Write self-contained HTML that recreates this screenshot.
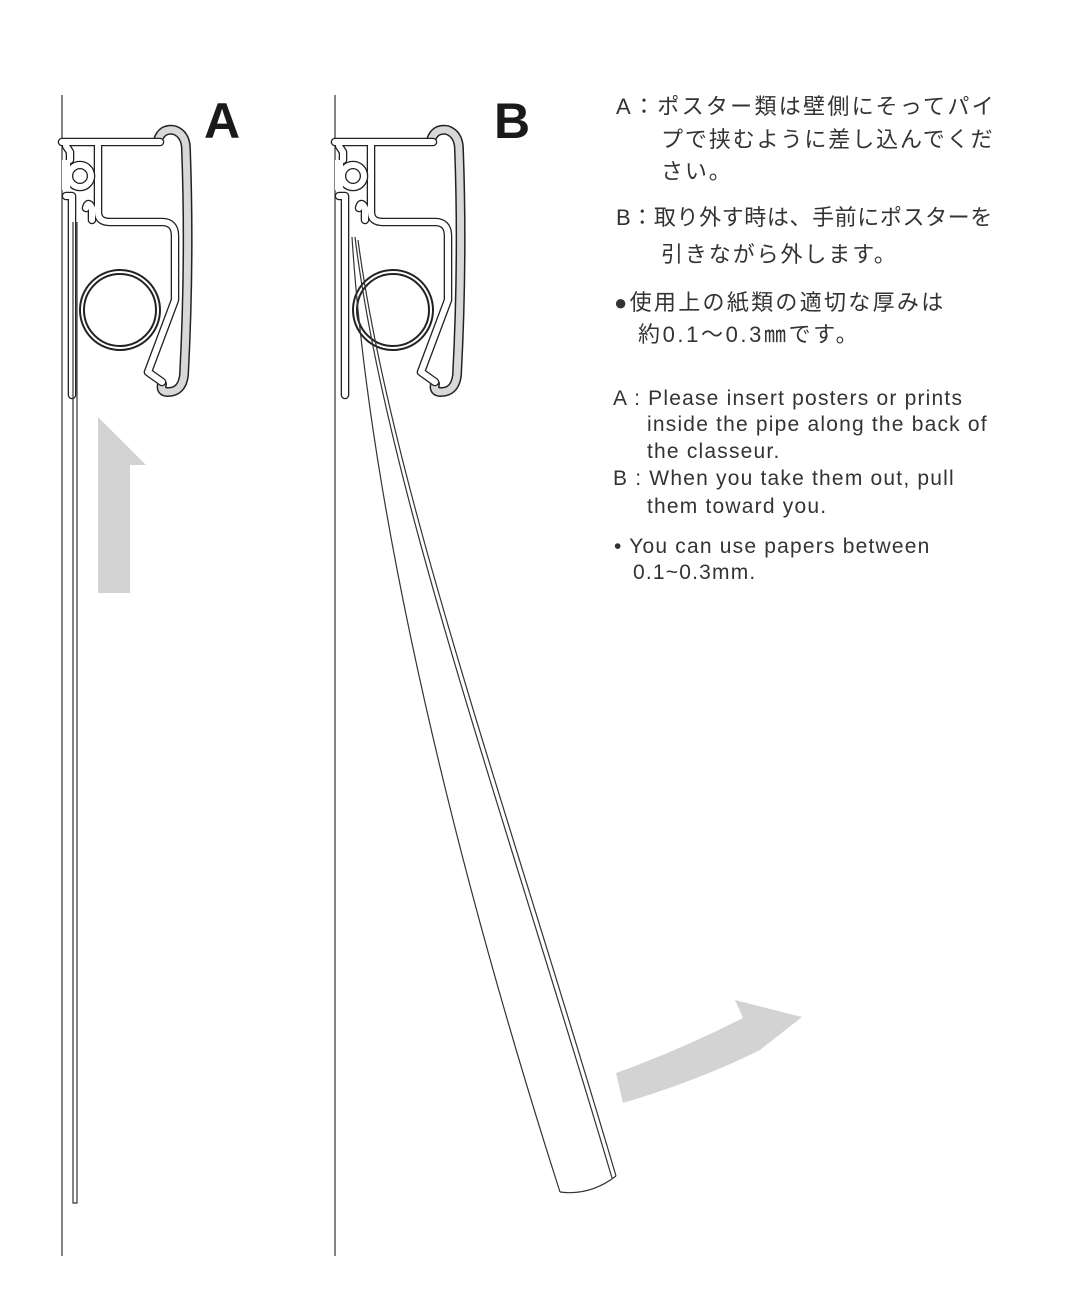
<!DOCTYPE html>
<html><head><meta charset="utf-8"><style>
body{margin:0;width:1068px;height:1296px;background:#fff;position:relative;overflow:hidden;font-family:"Liberation Sans","Noto Sans CJK JP",sans-serif;color:#333}
.t{position:absolute;white-space:nowrap}
.j{font-size:22px;letter-spacing:0.6px;line-height:1}
.e{font-size:21px;letter-spacing:1.2px;line-height:1}
.L{position:absolute;font-weight:bold;font-size:50px;color:#1a1a1a;line-height:1}
</style></head><body>
<svg width="1068" height="1296" style="position:absolute;left:0;top:0">
<defs>
<g id="prof" fill="none" stroke-linejoin="round" stroke-linecap="round">
  <path d="M96,140 Q100,128 112,130 Q124,134 124,150 Q128,260 122,375 Q120,392 106,392 Q98,392 100,384" stroke="#222" stroke-width="10"/>
  <path d="M96,140 Q100,128 112,130 Q124,134 124,150 Q128,260 122,375 Q120,392 106,392 Q98,392 100,384" stroke="#d8d8d8" stroke-width="7"/>
  <g stroke="#222" stroke-width="8.6">
    <path d="M0,142 L98,142"/>
    <path d="M36,146 L36,212 Q36,222 48,222 L100,222 Q113,222 113,236 L113,300 L86,372 L100,382"/>
    <path d="M4,146 L8,152 L8,160"/>
    <path d="M4,196 L10,196 L10,395"/>
    <path d="M24,208 Q26,200 30,208 L30,220"/>
  </g>
  <g stroke="#fff" stroke-width="6">
    <path d="M0,142 L98,142"/>
    <path d="M36,146 L36,212 Q36,222 48,222 L100,222 Q113,222 113,236 L113,300 L86,372 L100,382"/>
    <path d="M4,146 L8,152 L8,160"/>
    <path d="M4,196 L10,196 L10,395"/>
    <path d="M24,208 Q26,200 30,208 L30,220"/>
  </g>
  <circle cx="18" cy="176" r="11" stroke="#222" stroke-width="8.6"/>
  <circle cx="18" cy="176" r="11" stroke="#fff" stroke-width="6"/>
  <rect x="0" y="160" width="8" height="30" fill="#fff" stroke="none"/>
  <circle cx="58" cy="310" r="40" stroke="#222" stroke-width="2"/>
  <circle cx="58" cy="310" r="36" stroke="#222" stroke-width="2"/>
</g>
</defs>
<g stroke="#333" stroke-width="1.2">
<line x1="62" y1="95" x2="62" y2="1256"/>
<line x1="335" y1="95" x2="335" y2="1256"/>
</g>
<use href="#prof" x="62"/>
<use href="#prof" x="335"/>
<g stroke="#333" stroke-width="1.2" fill="none">
<path d="M73,222 L73,1203 L77,1203 L77,222"/>
</g>
<g stroke="#333" stroke-width="1.2" fill="none">
<path d="M352,237 C370,520 460,880 560,1192"/>
<path d="M355,237 C385,480 500,800 612,1178"/>
<path d="M358,240 C390,480 505,800 616,1176"/>
<path d="M560,1192 Q590,1196 616,1176"/>
</g>
<polygon points="98,593 130,593 130,465 146,465 98,417" fill="#d3d3d3"/>
<path d="M616,1073 Q680,1050 743,1018 L735,1000 L802,1017 L760,1050 Q700,1080 623,1103 Z" fill="#d3d3d3"/>
</svg>
<div class="L" style="left:204px;top:96px">A</div>
<div class="L" style="left:494px;top:96px">B</div>

<div class="t j" style="left:616px;top:96px;letter-spacing:2.3px">A：ポスター類は壁側にそってパイ</div>
<div class="t j" style="left:661px;top:129px;letter-spacing:1.9px">プで挟むように差し込んでくだ</div>
<div class="t j" style="left:661px;top:161px;letter-spacing:1.9px">さい。</div>
<div class="t j" style="left:616px;top:207px">B：取り外す時は、手前にポスターを</div>
<div class="t j" style="left:661px;top:244px;letter-spacing:1.9px">引きながら外します。</div>
<div class="t j" style="left:614px;top:292px;letter-spacing:2.3px">●使用上の紙類の適切な厚みは</div>
<div class="t j" style="left:638px;top:324px;letter-spacing:2.6px">約0.1～0.3㎜です。</div>

<div class="t e" style="left:613px;top:388px">A : Please insert posters or prints</div>
<div class="t e" style="left:647px;top:414px">inside the pipe along the back of</div>
<div class="t e" style="left:647px;top:441px">the classeur.</div>
<div class="t e" style="left:613px;top:468px">B : When you take them out, pull</div>
<div class="t e" style="left:647px;top:496px">them toward you.</div>
<div class="t e" style="left:614px;top:536px">• You can use papers between</div>
<div class="t e" style="left:633px;top:562px">0.1~0.3mm.</div>
</body></html>
